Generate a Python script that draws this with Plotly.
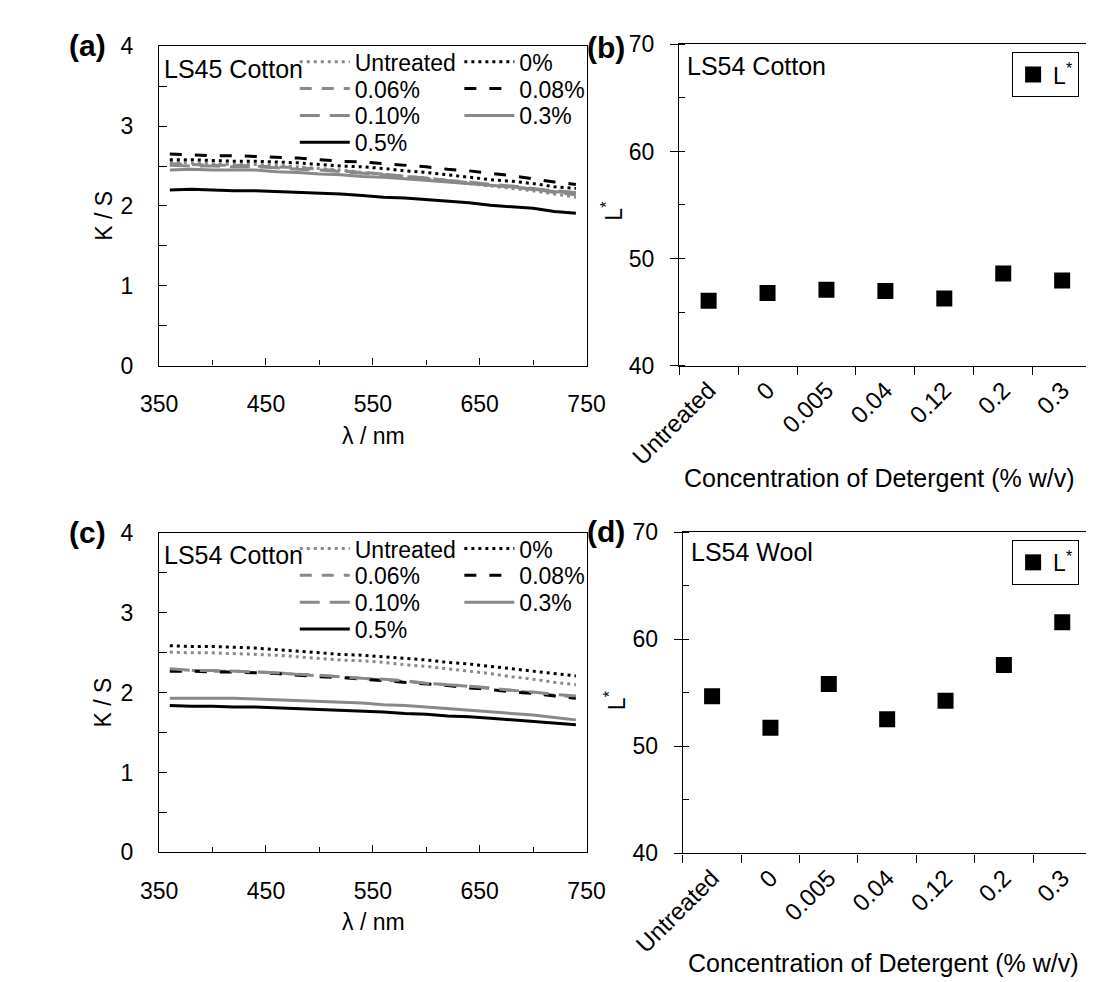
import plotly.graph_objects as go

W, H = 1097, 982
FONT = "Liberation Sans, Arial, sans-serif"

# ---------------- data ----------------
wavelength = [360, 380, 400, 420, 440, 460, 480, 500, 520, 540,
              560, 580, 600, 620, 640, 660, 680, 700, 720, 740]

series_names = ["Untreated", "0%", "0.06%", "0.08%", "0.10%", "0.3%", "0.5%"]

# Panel (a) LS45 Cotton, K/S
a_untreated = [2.55, 2.54, 2.53, 2.52, 2.52, 2.51, 2.49, 2.47, 2.45, 2.42,
               2.40, 2.37, 2.34, 2.31, 2.28, 2.25, 2.22, 2.19, 2.15, 2.11]
a_0 = [2.58, 2.58, 2.57, 2.56, 2.56, 2.55, 2.54, 2.52, 2.50, 2.49,
       2.47, 2.44, 2.42, 2.39, 2.36, 2.33, 2.31, 2.28, 2.24, 2.22]
a_006 = [2.53, 2.52, 2.51, 2.51, 2.50, 2.49, 2.48, 2.46, 2.44, 2.42,
         2.40, 2.37, 2.35, 2.32, 2.29, 2.26, 2.24, 2.21, 2.17, 2.14]
a_008 = [2.65, 2.64, 2.63, 2.63, 2.62, 2.61, 2.60, 2.58, 2.56, 2.55,
         2.53, 2.51, 2.49, 2.46, 2.44, 2.41, 2.38, 2.34, 2.30, 2.27]
a_010 = [2.51, 2.50, 2.50, 2.49, 2.49, 2.48, 2.46, 2.45, 2.43, 2.41,
         2.39, 2.37, 2.35, 2.32, 2.30, 2.27, 2.25, 2.22, 2.19, 2.17]
a_03 = [2.45, 2.46, 2.45, 2.45, 2.45, 2.43, 2.42, 2.40, 2.39, 2.37,
        2.36, 2.34, 2.32, 2.30, 2.28, 2.26, 2.24, 2.21, 2.18, 2.16]
a_05 = [2.20, 2.21, 2.20, 2.19, 2.19, 2.18, 2.17, 2.16, 2.15, 2.13,
        2.11, 2.10, 2.08, 2.06, 2.04, 2.01, 1.99, 1.97, 1.93, 1.91]

# Panel (c) LS54 Cotton, K/S
c_untreated = [2.51, 2.50, 2.50, 2.49, 2.48, 2.47, 2.45, 2.43, 2.41, 2.40,
               2.38, 2.35, 2.33, 2.30, 2.27, 2.24, 2.20, 2.17, 2.13, 2.10]
c_0 = [2.59, 2.58, 2.58, 2.57, 2.56, 2.54, 2.52, 2.50, 2.48, 2.47,
       2.45, 2.43, 2.41, 2.38, 2.36, 2.33, 2.30, 2.27, 2.24, 2.21]
c_006 = [2.29, 2.28, 2.27, 2.27, 2.26, 2.25, 2.23, 2.21, 2.20, 2.18,
         2.16, 2.14, 2.12, 2.10, 2.08, 2.05, 2.03, 2.00, 1.97, 1.95]
c_008 = [2.27, 2.27, 2.26, 2.26, 2.25, 2.24, 2.22, 2.20, 2.19, 2.17,
         2.15, 2.13, 2.11, 2.09, 2.06, 2.04, 2.01, 1.99, 1.96, 1.93]
c_010 = [2.30, 2.28, 2.28, 2.27, 2.26, 2.25, 2.23, 2.22, 2.20, 2.18,
         2.17, 2.15, 2.12, 2.10, 2.08, 2.06, 2.03, 2.01, 1.98, 1.96]
c_03 = [1.93, 1.93, 1.93, 1.93, 1.92, 1.91, 1.90, 1.89, 1.88, 1.87,
        1.85, 1.84, 1.82, 1.80, 1.78, 1.76, 1.74, 1.72, 1.69, 1.66]
c_05 = [1.84, 1.83, 1.83, 1.82, 1.82, 1.81, 1.80, 1.79, 1.78, 1.77,
        1.76, 1.74, 1.73, 1.71, 1.70, 1.68, 1.66, 1.64, 1.62, 1.60]

# Panels (b) and (d): L* vs detergent concentration
conc_labels = ["Untreated", "0", "0.005", "0.04", "0.12", "0.2", "0.3"]
b_lstar = [46.06, 46.79, 47.09, 46.97, 46.27, 48.60, 47.94]
d_lstar = [54.66, 51.73, 55.82, 52.52, 54.24, 57.58, 61.58]

x_ticks_nm = [350, 450, 550, 650, 750]
y_ticks_ks = [0, 1, 2, 3, 4]
y_ticks_l = [40, 50, 60, 70]

# ---------------- styles ----------------
GREY = "#898989"
styles = {
    "Untreated": dict(color=GREY, width=3, dash="3px,4px"),
    "0%": dict(color="black", width=3, dash="3px,4px"),
    "0.06%": dict(color=GREY, width=3, dash="12px,10px"),
    "0.08%": dict(color="black", width=3, dash="12px,13px"),
    "0.10%": dict(color=GREY, width=3, dash="20px,10px"),
    "0.3%": dict(color=GREY, width=3, dash="solid"),
    "0.5%": dict(color="black", width=3, dash="solid"),
}

def px_x(p):
    return p / W

def px_y(p):
    return 1 - p / H

fig = go.Figure()

legend_slots = {
    "Untreated": (0, 0), "0%": (1, 0),
    "0.06%": (0, 1), "0.08%": (1, 1),
    "0.10%": (0, 2), "0.3%": (1, 2),
    "0.5%": (0, 3),
}
col_x = [251, 427]
row_off = [16, 43.5, 71, 98.5]

legend_layouts = {}
lcount = [0]

def new_legend_name():
    lcount[0] += 1
    return "legend" if lcount[0] == 1 else f"legend{lcount[0]}"

def add_ks_panel(values, xa, ya, top_px):
    for name, vals in zip(series_names, values):
        lname = new_legend_name()
        col, row = legend_slots[name]
        legend_layouts[lname] = dict(
            x=px_x(col_x[col]), y=px_y(top_px + row_off[row]),
            xanchor="left", yanchor="middle",
            bgcolor="rgba(0,0,0,0)", borderwidth=0,
            font=dict(family=FONT, size=23, color="black"),
            itemwidth=50, tracegroupgap=0,
        )
        fig.add_trace(go.Scatter(
            x=wavelength, y=vals, mode="lines", name=name,
            line=styles[name], xaxis=xa, yaxis=ya, legend=lname,
        ))

add_ks_panel([a_untreated, a_0, a_006, a_008, a_010, a_03, a_05], "x", "y", 26)
add_ks_panel([c_untreated, c_0, c_006, c_008, c_010, c_03, c_05], "x3", "y3", 526)

def add_l_panel(vals, xa, ya, top_px):
    lname = new_legend_name()
    legend_layouts[lname] = dict(
        x=px_x(1018), y=px_y(top_px + 8), xanchor="left", yanchor="top",
        bgcolor="white", bordercolor="black", borderwidth=1,
        font=dict(family=FONT, size=23, color="black"),
    )
    fig.add_trace(go.Scatter(
        x=conc_labels, y=vals, mode="markers", name="L<sup>*</sup>",
        marker=dict(symbol="square", size=16, color="black"),
        xaxis=xa, yaxis=ya, legend=lname,
    ))

add_l_panel(b_lstar, "x2", "y2", 24)
add_l_panel(d_lstar, "x4", "y4", 525)

tickfont = dict(family=FONT, size=23, color="black")
line_kw = dict(showline=True, linecolor="black", linewidth=1.3,
               showgrid=False, zeroline=False, tickcolor="black", tickwidth=1.3)

def ks_axes(top_px, bot_px, yanchor, xanchor):
    x_ax = dict(domain=[px_x(106), px_x(563)], range=[350, 750],
                tickvals=x_ticks_nm, ticks="inside", ticklen=7,
                minor=dict(dtick=50, tick0=350, ticks="inside", ticklen=5,
                           tickcolor="black", tickwidth=1.3, showgrid=False),
                mirror=True, tickfont=tickfont, ticklabelstandoff=18,
                anchor=yanchor, **line_kw)
    y_ax = dict(domain=[px_y(bot_px), px_y(top_px)], range=[0, 4],
                tickvals=y_ticks_ks, ticks="inside", ticklen=8,
                minor=dict(dtick=0.5, tick0=0, ticks="inside", ticklen=8,
                           tickcolor="black", tickwidth=1.3, showgrid=False),
                mirror=True, tickfont=tickfont, ticklabelstandoff=20,
                anchor=xanchor, **line_kw)
    return x_ax, y_ax

def l_axes(left_px, spacing, top_px, bot_px, yanchor, xanchor):
    right_range = -0.5 + (W - left_px) / spacing
    x_ax = dict(domain=[px_x(left_px), 1.0], type="category",
                categoryorder="array", categoryarray=conc_labels,
                range=[-0.5, right_range], tickson="boundaries",
                ticks="outside", ticklen=8, tickangle=-45,
                mirror=True, tickfont=dict(family=FONT, size=24, color="black"),
                anchor=yanchor, **line_kw)
    y_ax = dict(domain=[px_y(bot_px), px_y(top_px)], range=[40, 70],
                tickvals=y_ticks_l, ticks="outside", ticklen=8,
                minor=dict(dtick=5, tick0=40, ticks="inside", ticklen=6,
                           tickcolor="black", tickwidth=1.3, showgrid=False),
                tickfont=tickfont, ticklabelstandoff=11, anchor=xanchor, **line_kw)
    return x_ax, y_ax

xa1, ya1 = ks_axes(26, 354, "y", "x")
xa3, ya3 = ks_axes(526, 854, "y3", "x3")
xa2, ya2 = l_axes(662, 63.0, 24, 354, "y2", "x2")
xa4, ya4 = l_axes(666, 62.4, 525, 855, "y4", "x4")

annotations = []

def ann(text, x, y, size=23, bold=False, angle=0, xanchor="center"):
    annotations.append(dict(
        text=f"<b>{text}</b>" if bold else text,
        x=px_x(x), y=px_y(y), xref="paper", yref="paper",
        xanchor=xanchor, yanchor="middle", showarrow=False,
        textangle=angle, font=dict(family=FONT, size=size, color="black"),
    ))

ann("(a)", 8, 25, size=30, bold=True, xanchor="left")
ann("(b)", 561, 27, size=30, bold=True, xanchor="left")
ann("(c)", 8, 525, size=30, bold=True, xanchor="left")
ann("(d)", 561, 524, size=30, bold=True, xanchor="left")
ann("LS45 Cotton", 109, 49, size=25, xanchor="left")
ann("LS54 Cotton", 109, 549, size=25, xanchor="left")
ann("LS54 Cotton", 668, 46, size=25, xanchor="left")
ann("LS54 Wool", 673, 545, size=25, xanchor="left")
ann("K / S", 47, 200, angle=-90)
ann("K / S", 47, 700, angle=-90)
ann("L<sup>*</sup>", 590, 195, angle=-90)
ann("L<sup>*</sup>", 593, 698, angle=-90)
ann("λ / nm", 335, 426)
ann("λ / nm", 335, 926)
ann("Concentration of Detergent (% w/v)", 876, 469, size=25)
ann("Concentration of Detergent (% w/v)", 880, 968, size=25)

fig.update_layout(
    width=W, height=H, margin=dict(l=0, r=0, t=0, b=0),
    paper_bgcolor="white", plot_bgcolor="white",
    font=dict(family=FONT, size=23, color="black"),
    showlegend=True,
    xaxis=xa1, yaxis=ya1, xaxis2=xa2, yaxis2=ya2,
    xaxis3=xa3, yaxis3=ya3, xaxis4=xa4, yaxis4=ya4,
    annotations=annotations,
    **legend_layouts,
)

fig.write_html("out.html")
